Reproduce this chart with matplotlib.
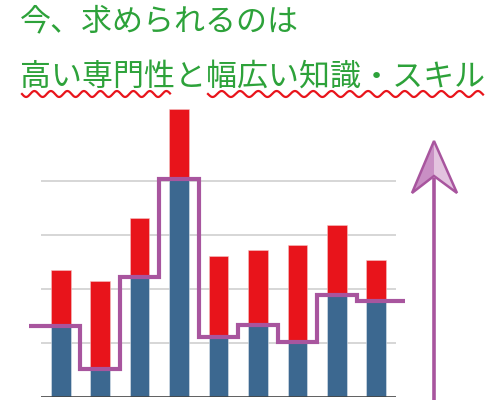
import numpy as np
import matplotlib
matplotlib.use("Agg")
from matplotlib import pyplot as plt
from matplotlib.patches import Polygon

plt.rcParams['font.family'] = ['Noto Sans CJK JP', 'DejaVu Sans']

# data (grid units)
categories = list(range(9))
base_values = [1.32, 0.51, 2.23, 4.03, 1.11, 1.33, 1.02, 1.88, 1.78]
total_values = [2.35, 2.15, 3.32, 5.33, 2.62, 2.72, 2.81, 3.19, 2.53]
title_line1 = "今、求められるのは"
title_line2 = "高い専門性と幅広い知識・スキル"

blue = "#3C6890"
red = "#E8141B"
purple = "#A8559E"
green = "#2DA23A"

W, H = 500, 417
fig = plt.figure(figsize=(5, 4.17), dpi=100)

# chart axes
ax = fig.add_axes([41 / W, 20 / H, 355 / W, 297 / H])
top_parts = [t - b for t, b in zip(total_values, base_values)]
ax.bar(categories, base_values, width=0.5, color=blue, edgecolor="#dfe6ee", linewidth=0.4, zorder=2)
ax.bar(categories, top_parts, bottom=base_values, width=0.5, color=red, edgecolor="#f4c4c4", linewidth=0.4, zorder=2)

edges = [-0.8] + [c + 0.5 for c in categories[:-1]] + [8.74]
ax.stairs(base_values, edges, baseline=None, color=purple, linewidth=3, zorder=3, clip_on=False)

ax.set_xlim(-0.5, 8.5)
ax.set_ylim(0, 5.5)
ax.set_yticks([1, 2, 3, 4])
ax.yaxis.grid(True, color="#cccccc", linewidth=1.1, zorder=0)
ax.axhline(0, color="#444444", linewidth=1.2, zorder=4)
ax.set_xticks([])
ax.tick_params(left=False, labelleft=False)
for s in ax.spines.values():
    s.set_visible(False)

# overlay in pixel coords for title and arrow
ov = fig.add_axes([0, 0, 1, 1], zorder=5)
ov.set_xlim(0, W)
ov.set_ylim(H, 0)
ov.axis("off")

ov.text(20, 22, title_line1, color=green, fontsize=22.3, va="center", ha="left")
ov.text(20, 77, title_line2, color=green, fontsize=22.3, va="center", ha="left")

# wavy underlines
for x0, x1, period in [(22, 170, 16.5), (208, 483, 18.3)]:
    xs = np.linspace(x0, x1, 300)
    ov.plot(xs, 94 + 3 * np.sin(2 * np.pi * (xs - x0) / period), color=red, linewidth=1.6)

# arrow
ov.plot([434, 434], [400, 178], color=purple, linewidth=2.6, solid_capstyle="butt")
ov.add_patch(Polygon([[434, 141], [412, 193], [434, 176]], closed=True,
                     facecolor="#C98FC4", edgecolor="none"))
ov.add_patch(Polygon([[434, 141], [457, 193], [434, 176]], closed=True,
                     facecolor="#E3C3DF", edgecolor="none"))
ov.add_patch(Polygon([[434, 141], [412, 193], [434, 176], [457, 193]], closed=True,
                     facecolor="none", edgecolor=purple, linewidth=1.8, joinstyle="miter"))

fig.savefig("out.png", dpi=100)
